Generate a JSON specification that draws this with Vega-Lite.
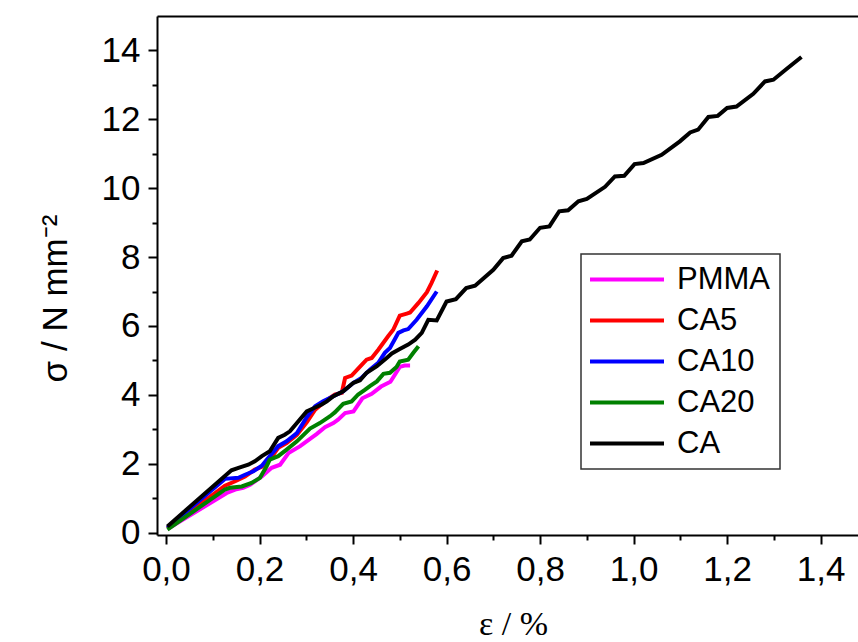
{
  "$schema": "https://vega.github.io/schema/vega-lite/v6.json",
  "width": 701,
  "height": 519,
  "autosize": {"type": "none"},
  "padding": {"left": 157, "top": 16, "right": 0, "bottom": 107},
  "background": "white",
  "view": {"stroke": null},
  "config": {
    "font": "Liberation Sans",
    "legend": {"strokeColor": "#333333", "strokeWidth": 1.5, "padding": 10}
  },
  "data": {
    "values": [
      {"s": "PMMA", "i": 1, "e": 0.003, "v": 0.10},
      {"s": "PMMA", "i": 2, "e": 0.130, "v": 1.15},
      {"s": "PMMA", "i": 3, "e": 0.148, "v": 1.25},
      {"s": "PMMA", "i": 4, "e": 0.165, "v": 1.30},
      {"s": "PMMA", "i": 5, "e": 0.180, "v": 1.39},
      {"s": "PMMA", "i": 6, "e": 0.205, "v": 1.63},
      {"s": "PMMA", "i": 7, "e": 0.226, "v": 1.88},
      {"s": "PMMA", "i": 8, "e": 0.244, "v": 1.97},
      {"s": "PMMA", "i": 9, "e": 0.262, "v": 2.31},
      {"s": "PMMA", "i": 10, "e": 0.287, "v": 2.51},
      {"s": "PMMA", "i": 11, "e": 0.308, "v": 2.72},
      {"s": "PMMA", "i": 12, "e": 0.322, "v": 2.86},
      {"s": "PMMA", "i": 13, "e": 0.340, "v": 3.06},
      {"s": "PMMA", "i": 14, "e": 0.358, "v": 3.18},
      {"s": "PMMA", "i": 15, "e": 0.368, "v": 3.28},
      {"s": "PMMA", "i": 16, "e": 0.383, "v": 3.47},
      {"s": "PMMA", "i": 17, "e": 0.401, "v": 3.52},
      {"s": "PMMA", "i": 18, "e": 0.420, "v": 3.90},
      {"s": "PMMA", "i": 19, "e": 0.440, "v": 4.03},
      {"s": "PMMA", "i": 20, "e": 0.460, "v": 4.24},
      {"s": "PMMA", "i": 21, "e": 0.480, "v": 4.38},
      {"s": "PMMA", "i": 22, "e": 0.500, "v": 4.81},
      {"s": "PMMA", "i": 23, "e": 0.510, "v": 4.85},
      {"s": "PMMA", "i": 24, "e": 0.522, "v": 4.85},
      {"s": "CA5", "i": 1, "e": 0.003, "v": 0.12},
      {"s": "CA5", "i": 2, "e": 0.126, "v": 1.36},
      {"s": "CA5", "i": 3, "e": 0.148, "v": 1.49},
      {"s": "CA5", "i": 4, "e": 0.169, "v": 1.63},
      {"s": "CA5", "i": 5, "e": 0.190, "v": 1.83},
      {"s": "CA5", "i": 6, "e": 0.205, "v": 1.91},
      {"s": "CA5", "i": 7, "e": 0.222, "v": 2.12},
      {"s": "CA5", "i": 8, "e": 0.240, "v": 2.46},
      {"s": "CA5", "i": 9, "e": 0.258, "v": 2.60},
      {"s": "CA5", "i": 10, "e": 0.280, "v": 2.84},
      {"s": "CA5", "i": 11, "e": 0.301, "v": 3.20},
      {"s": "CA5", "i": 12, "e": 0.319, "v": 3.57},
      {"s": "CA5", "i": 13, "e": 0.340, "v": 3.81},
      {"s": "CA5", "i": 14, "e": 0.361, "v": 4.01},
      {"s": "CA5", "i": 15, "e": 0.376, "v": 4.06},
      {"s": "CA5", "i": 16, "e": 0.383, "v": 4.49},
      {"s": "CA5", "i": 17, "e": 0.397, "v": 4.56},
      {"s": "CA5", "i": 18, "e": 0.419, "v": 4.88},
      {"s": "CA5", "i": 19, "e": 0.429, "v": 5.02},
      {"s": "CA5", "i": 20, "e": 0.440, "v": 5.07},
      {"s": "CA5", "i": 21, "e": 0.454, "v": 5.31},
      {"s": "CA5", "i": 22, "e": 0.475, "v": 5.70},
      {"s": "CA5", "i": 23, "e": 0.486, "v": 5.89},
      {"s": "CA5", "i": 24, "e": 0.500, "v": 6.30},
      {"s": "CA5", "i": 25, "e": 0.515, "v": 6.36},
      {"s": "CA5", "i": 26, "e": 0.522, "v": 6.39},
      {"s": "CA5", "i": 27, "e": 0.540, "v": 6.67},
      {"s": "CA5", "i": 28, "e": 0.558, "v": 6.98},
      {"s": "CA5", "i": 29, "e": 0.568, "v": 7.25},
      {"s": "CA5", "i": 30, "e": 0.580, "v": 7.61},
      {"s": "CA10", "i": 1, "e": 0.003, "v": 0.14},
      {"s": "CA10", "i": 2, "e": 0.126, "v": 1.56},
      {"s": "CA10", "i": 3, "e": 0.155, "v": 1.59},
      {"s": "CA10", "i": 4, "e": 0.169, "v": 1.68},
      {"s": "CA10", "i": 5, "e": 0.187, "v": 1.78},
      {"s": "CA10", "i": 6, "e": 0.205, "v": 1.94},
      {"s": "CA10", "i": 7, "e": 0.222, "v": 2.22},
      {"s": "CA10", "i": 8, "e": 0.240, "v": 2.51},
      {"s": "CA10", "i": 9, "e": 0.258, "v": 2.65},
      {"s": "CA10", "i": 10, "e": 0.280, "v": 2.89},
      {"s": "CA10", "i": 11, "e": 0.301, "v": 3.35},
      {"s": "CA10", "i": 12, "e": 0.319, "v": 3.67},
      {"s": "CA10", "i": 13, "e": 0.336, "v": 3.81},
      {"s": "CA10", "i": 14, "e": 0.358, "v": 3.96},
      {"s": "CA10", "i": 15, "e": 0.379, "v": 4.10},
      {"s": "CA10", "i": 16, "e": 0.401, "v": 4.35},
      {"s": "CA10", "i": 17, "e": 0.418, "v": 4.49},
      {"s": "CA10", "i": 18, "e": 0.436, "v": 4.73},
      {"s": "CA10", "i": 19, "e": 0.454, "v": 4.93},
      {"s": "CA10", "i": 20, "e": 0.468, "v": 5.22},
      {"s": "CA10", "i": 21, "e": 0.479, "v": 5.36},
      {"s": "CA10", "i": 22, "e": 0.497, "v": 5.80},
      {"s": "CA10", "i": 23, "e": 0.508, "v": 5.87},
      {"s": "CA10", "i": 24, "e": 0.518, "v": 5.91},
      {"s": "CA10", "i": 25, "e": 0.536, "v": 6.18},
      {"s": "CA10", "i": 26, "e": 0.558, "v": 6.57},
      {"s": "CA10", "i": 27, "e": 0.579, "v": 7.00},
      {"s": "CA20", "i": 1, "e": 0.003, "v": 0.09},
      {"s": "CA20", "i": 2, "e": 0.126, "v": 1.25},
      {"s": "CA20", "i": 3, "e": 0.137, "v": 1.30},
      {"s": "CA20", "i": 4, "e": 0.162, "v": 1.34},
      {"s": "CA20", "i": 5, "e": 0.183, "v": 1.44},
      {"s": "CA20", "i": 6, "e": 0.201, "v": 1.59},
      {"s": "CA20", "i": 7, "e": 0.215, "v": 1.92},
      {"s": "CA20", "i": 8, "e": 0.222, "v": 2.12},
      {"s": "CA20", "i": 9, "e": 0.240, "v": 2.22},
      {"s": "CA20", "i": 10, "e": 0.258, "v": 2.41},
      {"s": "CA20", "i": 11, "e": 0.280, "v": 2.65},
      {"s": "CA20", "i": 12, "e": 0.308, "v": 3.02},
      {"s": "CA20", "i": 13, "e": 0.329, "v": 3.18},
      {"s": "CA20", "i": 14, "e": 0.351, "v": 3.38},
      {"s": "CA20", "i": 15, "e": 0.361, "v": 3.49},
      {"s": "CA20", "i": 16, "e": 0.379, "v": 3.74},
      {"s": "CA20", "i": 17, "e": 0.397, "v": 3.81},
      {"s": "CA20", "i": 18, "e": 0.411, "v": 4.01},
      {"s": "CA20", "i": 19, "e": 0.426, "v": 4.15},
      {"s": "CA20", "i": 20, "e": 0.436, "v": 4.25},
      {"s": "CA20", "i": 21, "e": 0.451, "v": 4.39},
      {"s": "CA20", "i": 22, "e": 0.465, "v": 4.61},
      {"s": "CA20", "i": 23, "e": 0.479, "v": 4.64},
      {"s": "CA20", "i": 24, "e": 0.493, "v": 4.81},
      {"s": "CA20", "i": 25, "e": 0.500, "v": 4.97},
      {"s": "CA20", "i": 26, "e": 0.518, "v": 5.02},
      {"s": "CA20", "i": 27, "e": 0.529, "v": 5.22},
      {"s": "CA20", "i": 28, "e": 0.540, "v": 5.41},
      {"s": "CA", "i": 1, "e": 0.003, "v": 0.18},
      {"s": "CA", "i": 2, "e": 0.140, "v": 1.81},
      {"s": "CA", "i": 3, "e": 0.155, "v": 1.88},
      {"s": "CA", "i": 4, "e": 0.176, "v": 1.97},
      {"s": "CA", "i": 5, "e": 0.190, "v": 2.07},
      {"s": "CA", "i": 6, "e": 0.205, "v": 2.22},
      {"s": "CA", "i": 7, "e": 0.222, "v": 2.36},
      {"s": "CA", "i": 8, "e": 0.240, "v": 2.75},
      {"s": "CA", "i": 9, "e": 0.254, "v": 2.84},
      {"s": "CA", "i": 10, "e": 0.265, "v": 2.94},
      {"s": "CA", "i": 11, "e": 0.280, "v": 3.18},
      {"s": "CA", "i": 12, "e": 0.301, "v": 3.52},
      {"s": "CA", "i": 13, "e": 0.312, "v": 3.59},
      {"s": "CA", "i": 14, "e": 0.333, "v": 3.72},
      {"s": "CA", "i": 15, "e": 0.344, "v": 3.81},
      {"s": "CA", "i": 16, "e": 0.358, "v": 3.96},
      {"s": "CA", "i": 17, "e": 0.379, "v": 4.10},
      {"s": "CA", "i": 18, "e": 0.401, "v": 4.35},
      {"s": "CA", "i": 19, "e": 0.415, "v": 4.42},
      {"s": "CA", "i": 20, "e": 0.429, "v": 4.64},
      {"s": "CA", "i": 21, "e": 0.451, "v": 4.83},
      {"s": "CA", "i": 22, "e": 0.472, "v": 5.07},
      {"s": "CA", "i": 23, "e": 0.483, "v": 5.20},
      {"s": "CA", "i": 24, "e": 0.500, "v": 5.33},
      {"s": "CA", "i": 25, "e": 0.518, "v": 5.46},
      {"s": "CA", "i": 26, "e": 0.533, "v": 5.60},
      {"s": "CA", "i": 27, "e": 0.547, "v": 5.80},
      {"s": "CA", "i": 28, "e": 0.561, "v": 6.18},
      {"s": "CA", "i": 29, "e": 0.579, "v": 6.16},
      {"s": "CA", "i": 30, "e": 0.600, "v": 6.71},
      {"s": "CA", "i": 31, "e": 0.620, "v": 6.78},
      {"s": "CA", "i": 32, "e": 0.642, "v": 7.10},
      {"s": "CA", "i": 33, "e": 0.661, "v": 7.17},
      {"s": "CA", "i": 34, "e": 0.700, "v": 7.63},
      {"s": "CA", "i": 35, "e": 0.721, "v": 7.97},
      {"s": "CA", "i": 36, "e": 0.739, "v": 8.04},
      {"s": "CA", "i": 37, "e": 0.761, "v": 8.46},
      {"s": "CA", "i": 38, "e": 0.778, "v": 8.51},
      {"s": "CA", "i": 39, "e": 0.800, "v": 8.85},
      {"s": "CA", "i": 40, "e": 0.820, "v": 8.89},
      {"s": "CA", "i": 41, "e": 0.841, "v": 9.33},
      {"s": "CA", "i": 42, "e": 0.860, "v": 9.36},
      {"s": "CA", "i": 43, "e": 0.882, "v": 9.62},
      {"s": "CA", "i": 44, "e": 0.900, "v": 9.69},
      {"s": "CA", "i": 45, "e": 0.939, "v": 10.04},
      {"s": "CA", "i": 46, "e": 0.960, "v": 10.34},
      {"s": "CA", "i": 47, "e": 0.980, "v": 10.36},
      {"s": "CA", "i": 48, "e": 1.002, "v": 10.70},
      {"s": "CA", "i": 49, "e": 1.021, "v": 10.73},
      {"s": "CA", "i": 50, "e": 1.060, "v": 10.97},
      {"s": "CA", "i": 51, "e": 1.099, "v": 11.36},
      {"s": "CA", "i": 52, "e": 1.121, "v": 11.62},
      {"s": "CA", "i": 53, "e": 1.138, "v": 11.70},
      {"s": "CA", "i": 54, "e": 1.160, "v": 12.07},
      {"s": "CA", "i": 55, "e": 1.180, "v": 12.10},
      {"s": "CA", "i": 56, "e": 1.200, "v": 12.33},
      {"s": "CA", "i": 57, "e": 1.220, "v": 12.37},
      {"s": "CA", "i": 58, "e": 1.256, "v": 12.74},
      {"s": "CA", "i": 59, "e": 1.281, "v": 13.10},
      {"s": "CA", "i": 60, "e": 1.299, "v": 13.15},
      {"s": "CA", "i": 61, "e": 1.327, "v": 13.46},
      {"s": "CA", "i": 62, "e": 1.359, "v": 13.81}
    ]
  },
  "resolve": {"axis": {"x": "independent", "y": "independent"}},
  "layer": [
    {
      "mark": {"type": "line", "strokeWidth": 4, "strokeJoin": "miter"},
      "encoding": {
        "x": {
          "field": "e", "type": "quantitative",
          "scale": {"domain": [-0.0192, 1.4799], "nice": false, "zero": false},
          "axis": {
            "orient": "bottom",
            "values": [0, 0.1, 0.2, 0.3, 0.4, 0.5, 0.6, 0.7, 0.8, 0.9, 1.0, 1.1, 1.2, 1.3, 1.4],
            "labelExpr": "round(datum.value*10) % 2 === 0 ? replace(format(datum.value, '.1f'), '.', ',') : ''",
            "tickSize": {"condition": {"test": "round(datum.value*10) % 2 === 0", "value": 9}, "value": 5},
            "tickWidth": 2, "tickColor": "black",
            "domainWidth": 2, "domainColor": "black",
            "grid": false,
            "labelFont": "Liberation Sans", "labelFontSize": 35, "labelColor": "black",
            "labelPadding": 8, "labelFlush": false, "labelOverlap": false,
            "title": "ε / %",
            "titleFont": "Liberation Serif", "titleFontSize": 34, "titleFontWeight": "normal", "titleColor": "black",
            "titleX": 356, "titleY": 99, "titleAlign": "center", "titleBaseline": "alphabetic"
          }
        },
        "y": {
          "field": "v", "type": "quantitative",
          "scale": {"domain": [-0.07, 15], "nice": false, "zero": false},
          "axis": {
            "orient": "left",
            "values": [0, 1, 2, 3, 4, 5, 6, 7, 8, 9, 10, 11, 12, 13, 14],
            "labelExpr": "datum.value % 2 === 0 ? format(datum.value, 'd') : ''",
            "tickSize": {"condition": {"test": "datum.value % 2 === 0", "value": 9}, "value": 5},
            "tickWidth": 2, "tickColor": "black",
            "domainWidth": 2, "domainColor": "black",
            "grid": false,
            "labelFont": "Liberation Sans", "labelFontSize": 35, "labelColor": "black",
            "labelPadding": 8, "labelFlush": false, "labelOverlap": false,
            "title": "σ / N mm⁻²",
            "titleFont": "Liberation Sans", "titleFontSize": 35, "titleFontWeight": "normal", "titleColor": "black",
            "titleAngle": -90, "titleX": -91, "titleY": 282, "titleAlign": "center", "titleBaseline": "alphabetic"
          }
        },
        "color": {
          "field": "s", "type": "nominal",
          "scale": {"domain": ["PMMA", "CA5", "CA10", "CA20", "CA"], "range": ["#FF00FF", "#FF0000", "#0000FF", "#008000", "#000000"]},
          "legend": {
            "orient": "none", "legendX": 424, "legendY": 238,
            "title": null,
            "symbolType": "M-3.3,0H11.5", "symbolSize": 100, "symbolStrokeWidth": 4,
            "labelFont": "Liberation Sans", "labelFontSize": 31, "labelColor": "black",
            "labelOffset": 55, "rowPadding": 9, "padding": 10,
            "strokeColor": "#333333", "fillColor": "white"
          }
        },
        "order": {"field": "i", "type": "quantitative"}
      }
    },
    {
      "mark": {"type": "line", "strokeOpacity": 0},
      "encoding": {
        "x": {
          "field": "e", "type": "quantitative",
          "scale": {"domain": [-0.0192, 1.4799], "nice": false, "zero": false},
          "axis": {"orient": "top", "ticks": false, "labels": false, "title": null, "grid": false, "domainWidth": 2, "domainColor": "black"}
        },
        "y": {
          "field": "v", "type": "quantitative",
          "scale": {"domain": [-0.07, 15], "nice": false, "zero": false},
          "axis": null
        },
        "detail": {"field": "s", "type": "nominal"}
      }
    }
  ]
}
